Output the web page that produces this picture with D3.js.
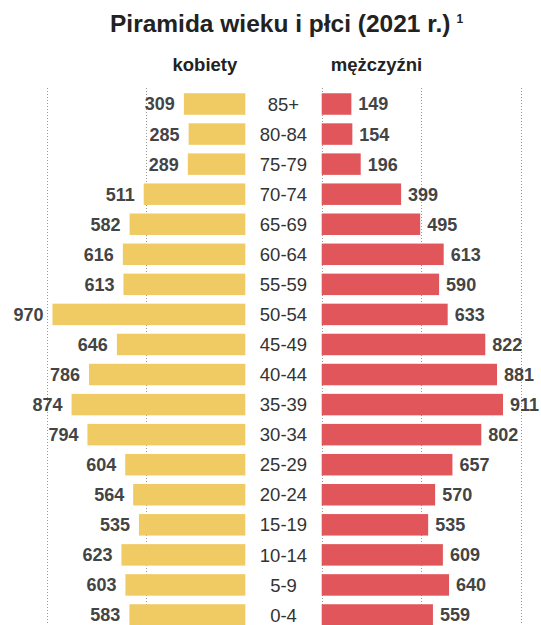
<!DOCTYPE html>
<html>
<head>
<meta charset="utf-8">
<script src="https://cdn.jsdelivr.net/npm/d3@7"></script>
<style>
  body { margin: 0; background: #fff; }
  text { font-family: "Liberation Sans", Arial, sans-serif; }
</style>
</head>
<body>
<div id="chart"></div>
<script>
// age groups, top to bottom
const ages = ["85+", "80-84", "75-79", "70-74", "65-69", "60-64", "55-59", "50-54", "45-49",
              "40-44", "35-39", "30-34", "25-29", "20-24", "15-19", "10-14", "5-9", "0-4"];
const women = [309, 285, 289, 511, 582, 616, 613, 970, 646, 786, 874, 794, 604, 564, 535, 623, 603, 583];
const men   = [149, 154, 196, 399, 495, 613, 590, 633, 822, 881, 911, 802, 657, 570, 535, 609, 640, 559];
const gridTicks = [500, 1000];

let width = 541, height = 625;

let svg = d3.select("#chart")
    .append("svg")
        .attr("width", width)
        .attr("height", height);

let xLeft = d3.scaleLinear()
    .domain([0, 1000])
    .range([245.3, 46.5]);

let xRight = d3.scaleLinear()
    .domain([0, 1000])
    .range([321.7, 520.7]);

let y = d3.scaleBand()
    .domain(ages)
    .range([84.7, 634.3])
    .padding(0.285);

// dotted grid lines (behind the bars)
let grid = svg.append("g")
    .attr("stroke", "#999")
    .attr("stroke-width", 1)
    .attr("stroke-dasharray", "1,2");

gridTicks.forEach(t => {
    grid.append("line")
        .attr("x1", Math.round(xLeft(t)) + 0.5).attr("x2", Math.round(xLeft(t)) + 0.5)
        .attr("y1", 88).attr("y2", height);
});
[0].concat(gridTicks).forEach(t => {
    grid.append("line")
        .attr("x1", Math.round(xRight(t)) + 0.5).attr("x2", Math.round(xRight(t)) + 0.5)
        .attr("y1", 88).attr("y2", height);
});

// women bars
svg.append("g")
    .selectAll("rect")
    .data(ages)
    .join("rect")
        .attr("x", (d, i) => xLeft(women[i]))
        .attr("y", d => y(d))
        .attr("width", (d, i) => xLeft(0) - xLeft(women[i]))
        .attr("height", y.bandwidth())
        .attr("fill", "#f0cb64");

// men bars
svg.append("g")
    .selectAll("rect")
    .data(ages)
    .join("rect")
        .attr("x", xRight(0))
        .attr("y", d => y(d))
        .attr("width", (d, i) => xRight(men[i]) - xRight(0))
        .attr("height", y.bandwidth())
        .attr("fill", "#e1565a");

// value labels
svg.append("g")
    .selectAll("text")
    .data(ages)
    .join("text")
        .attr("x", (d, i) => xLeft(women[i]) - 9)
        .attr("y", d => y(d) + y.bandwidth() / 2)
        .attr("dy", "0.36em")
        .attr("text-anchor", "end")
        .attr("font-size", 18)
        .attr("font-weight", "bold")
        .attr("fill", "#444")
        .text((d, i) => women[i]);

svg.append("g")
    .selectAll("text")
    .data(ages)
    .join("text")
        .attr("x", (d, i) => xRight(men[i]) + 7)
        .attr("y", d => y(d) + y.bandwidth() / 2)
        .attr("dy", "0.36em")
        .attr("text-anchor", "start")
        .attr("font-size", 18)
        .attr("font-weight", "bold")
        .attr("fill", "#444")
        .text((d, i) => men[i]);

// age labels in the middle
svg.append("g")
    .selectAll("text")
    .data(ages)
    .join("text")
        .attr("x", (xLeft(0) + xRight(0)) / 2)
        .attr("y", d => y(d) + y.bandwidth() / 2)
        .attr("dy", "0.36em")
        .attr("text-anchor", "middle")
        .attr("font-size", 18.5)
        .attr("fill", "#333")
        .text(d => d);

// headers
svg.append("text")
    .attr("x", xLeft(0) - 8)
    .attr("y", 71)
    .attr("text-anchor", "end")
    .attr("font-size", 18.5)
    .attr("font-weight", "bold")
    .attr("fill", "#222")
    .text("kobiety");

svg.append("text")
    .attr("x", xRight(0) + 9)
    .attr("y", 71)
    .attr("text-anchor", "start")
    .attr("font-size", 18.5)
    .attr("font-weight", "bold")
    .attr("fill", "#222")
    .text("mężczyźni");

// title
let title = svg.append("text")
    .attr("x", 110)
    .attr("y", 31.7)
    .attr("font-size", 24.5)
    .attr("font-weight", "bold")
    .attr("fill", "#222");
title.append("tspan").text("Piramida wieku i płci (2021 r.)");
title.append("tspan")
    .attr("dx", 6)
    .attr("dy", -8.5)
    .attr("font-size", 12)
    .text("1");
</script>
</body>
</html>
